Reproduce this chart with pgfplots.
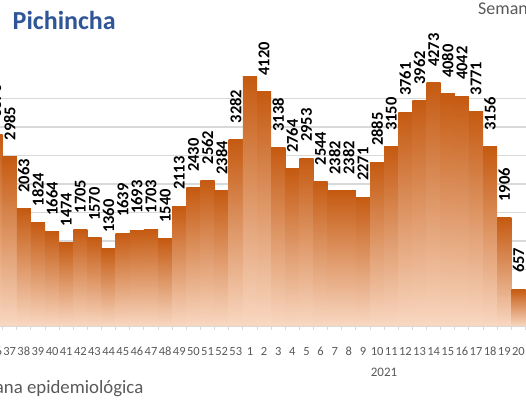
\documentclass[border=0pt]{standalone}
\usepackage{pgfplots}
\usepackage{pgfplotstable}
\pgfplotsset{compat=1.18}
\usepackage{fontspec}
\setmainfont{Carlito}
\definecolor{barTop}{HTML}{C55A11}
\definecolor{barBot}{HTML}{F9D8C2}
\definecolor{gridc}{HTML}{D9D9D9}
\definecolor{txtgrey}{HTML}{595959}
\definecolor{titleblue}{HTML}{2F5597}
\pgfplotstableread{
x y
0 3376
1 2985
2 2063
3 1824
4 1664
5 1474
6 1705
7 1570
8 1360
9 1639
10 1693
11 1703
12 1540
13 2113
14 2430
15 2562
16 2384
17 3282
18 4386
19 4120
20 3138
21 2764
22 2953
23 2544
24 2382
25 2382
26 2271
27 2885
28 3150
29 3761
30 3962
31 4273
32 4080
33 4042
34 3771
35 3156
36 1906
37 657
}\casos
\begin{document}
\begin{tikzpicture}
\useasboundingbox (0,0) rectangle (526pt,400pt);
\clip (0,0) rectangle (526pt,400pt);
\begin{axis}[
  at={(-11.5pt,73.5pt)}, anchor=south west,
  scale only axis, width=537pt, height=285pt,
  xmin=-0.5, xmax=37.5, ymin=0, ymax=5000,
  axis line style={draw=none},
  ytick={0,500,...,4000}, yticklabels={}, ymajorgrids,
  major y tick style={draw=none},
  grid style={gridc, line width=1.3pt},
  xtick={0,...,37},
  xticklabels={36,37,38,39,40,41,42,43,44,45,46,47,48,49,50,51,52,53,1,2,3,4,5,6,7,8,9,10,11,12,13,14,15,16,17,18,19,20},
  major x tick style={draw=none},
  minor xtick={-0.5,0.5,...,37.5},
  minor x tick style={gridc, line width=1pt},
  minor tick length=3pt,
  tick align=outside, xtick pos=left, ytick pos=left,
  x tick label style={font=\fontsize{12.5}{14}\selectfont, text=txtgrey, anchor=center, yshift=-20.5pt, inner sep=0pt},
  clip=true,
]
\pgfplotsinvokeforeach{0,...,37}{
  \addplot[ybar, bar width=1, bar shift=0pt, draw=none, top color=barTop, bottom color=barBot, forget plot,
    x filter/.expression={abs(x-#1)<0.1 ? x : nan}]
    table[x=x, y=y] {\casos};
}
\addplot[draw=none, mark=none, forget plot, point meta=explicit symbolic, nodes near coords,
  every node near coord/.append style={rotate=90, anchor=west, font=\bfseries\fontsize{16.5}{18}\selectfont, text=black, inner xsep=16pt, inner ysep=0pt}]
  coordinates {
(0,3376) [3376] (1,2985) [2985] (2,2063) [2063] (3,1824) [1824] (4,1664) [1664]
(5,1474) [1474] (6,1705) [1705] (7,1570) [1570] (8,1360) [1360] (9,1639) [1639]
(10,1693) [1693] (11,1703) [1703] (12,1540) [1540] (13,2113) [2113] (14,2430) [2430]
(15,2562) [2562] (16,2384) [2384] (17,3282) [3282] (19,4120) [4120]
(20,3138) [3138] (21,2764) [2764] (22,2953) [2953] (23,2544) [2544] (24,2382) [2382]
(25,2382) [2382] (26,2271) [2271] (27,2885) [2885] (28,3150) [3150] (29,3761) [3761]
(30,3962) [3962] (31,4273) [4273] (32,4080) [4080] (33,4042) [4042] (34,3771) [3771]
(35,3156) [3156] (36,1906) [1906] (37,657) [657]
};
\draw[gridc, line width=1.3pt] (axis cs:-0.5,0) -- (axis cs:37.5,0);
\draw[gridc, line width=1.3pt] (axis cs:17.5,0) -- ++(0,-53.5pt);
\draw[gridc, line width=1.3pt] (axis cs:37.5,0) -- ++(0,-53.5pt);
\end{axis}
\node[anchor=base west, inner sep=0pt, font=\bfseries\fontsize{26}{30}\selectfont, text=titleblue] at (12.5pt,370.5pt) {Pichincha};
\node[anchor=base west, inner sep=0pt, font=\fontsize{18}{22}\selectfont, text=txtgrey] at (478pt,385pt) {Semana epidemiológica};
\node[anchor=base east, inner sep=0pt, font=\fontsize{18.8}{22}\selectfont, text=txtgrey] at (143.5pt,7pt) {Semana epidemiológica};
\node[anchor=center, inner sep=0pt, font=\fontsize{13}{15}\selectfont, text=txtgrey] at (384pt,28pt) {2021};
\end{tikzpicture}
\end{document}
